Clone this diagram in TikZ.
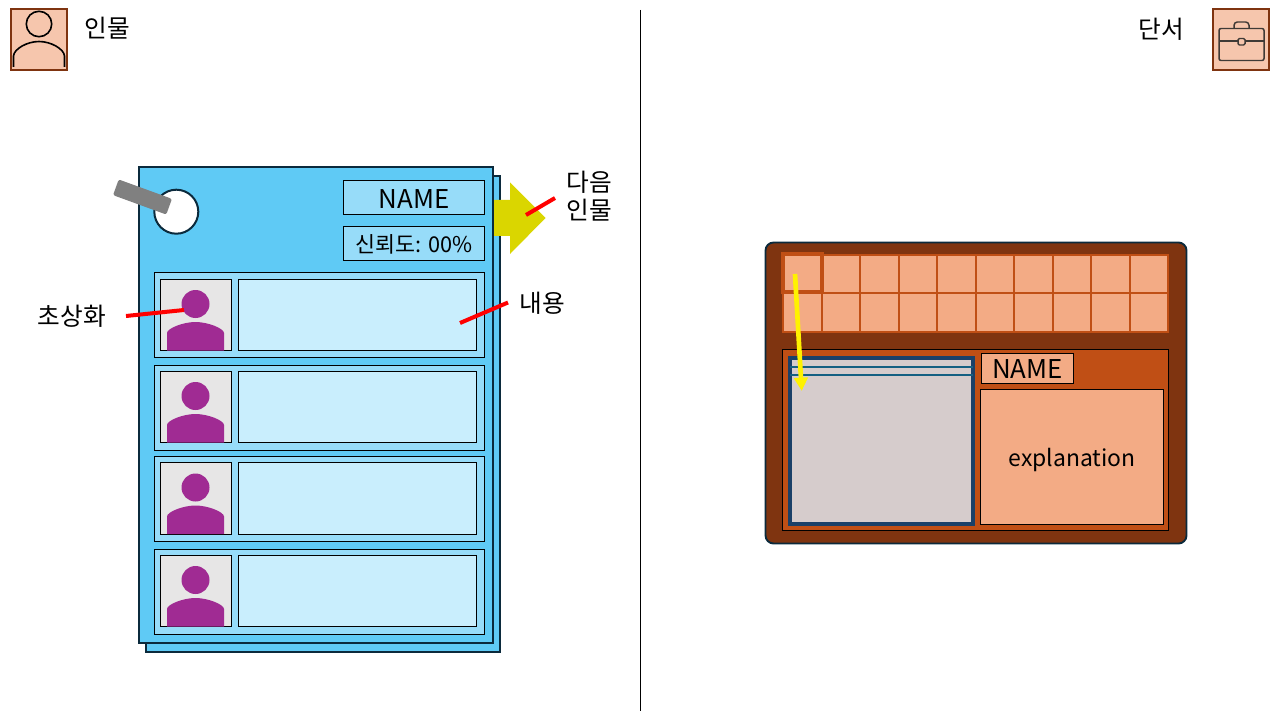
\documentclass[tikz,border=0pt]{standalone}
\usepackage{fontspec}
\usetikzlibrary{arrows.meta}
\setmainfont{Noto Sans CJK KR}
\definecolor{sheet}{HTML}{5FCAF5}
\definecolor{sheetline}{HTML}{0B2A3C}
\definecolor{rowfill}{HTML}{97DCF9}
\definecolor{contentfill}{HTML}{C9EEFD}
\definecolor{avatarbg}{HTML}{E7E6E6}
\definecolor{person}{HTML}{A02B93}
\definecolor{brown}{HTML}{7F3410}
\definecolor{rust}{HTML}{C04F15}
\definecolor{peach}{HTML}{F3AB85}
\definecolor{iconbg}{HTML}{F6C6AD}
\definecolor{arrowyellow}{HTML}{DAD600}
\definecolor{navy}{HTML}{1A4068}
\definecolor{teal}{HTML}{156082}
\definecolor{framefill}{HTML}{D6CCCC}
\definecolor{iconline}{HTML}{3F3A36}
\tikzset{
  x=0.75pt,y=-0.75pt,
  bx/.style={draw=black,line width=0.75pt,anchor=north west,inner sep=0pt,outer sep=0pt},
  sheetbox/.style={bx,fill=sheet,draw=sheetline,line width=1.6pt},
  rowbox/.style={bx,fill=rowfill},
  avatarbox/.style={bx,fill=avatarbg},
  contentbox/.style={bx,fill=contentfill},
  iconbox/.style={bx,fill=iconbg,draw=brown,line width=1.9pt},
  label/.style={font=\fontsize{18.5}{20}\selectfont,inner sep=0pt,align=center},
  callout/.style={draw=red,line width=3pt},
  cell/.style={bx,fill=peach,draw=rust,line width=1.5pt},
}
\newcommand{\bx}[6]{\node[#1,minimum width=#4*0.75pt,minimum height=#5*0.75pt] (#2) at (#3) {#6};}
\newcommand{\bt}[3]{\raisebox{#1}[0pt][0pt]{\fontsize{#2}{20}\selectfont #3}}
\newcommand{\rowset}[5]{%
  \bx{rowbox}{row#1}{154.5,#2}{330}{85}{}
  \bx{avatarbox}{av#1}{160.5,#3}{71}{#5}{}
  \bx{contentbox}{ct#1}{238.5,#3}{238}{#5}{}
  \begin{scope}[shift={(0,#4)}]
    \fill[person] (195.5,24.5) circle[radius=14];
    \fill[person] (167,71) -- (167,53.5) .. controls (167,49) and (183,42.5) .. (195.5,42.5)
       .. controls (208,42.5) and (224,49) .. (224,53.5) -- (224,71) -- cycle;
  \end{scope}}
\begin{document}
\begin{tikzpicture}
\useasboundingbox (0,0) rectangle (1280,720);
% divider
\coordinate (divtop) at (640.5,10);
\coordinate (divbot) at (640.5,711);
\draw[black,line width=0.75pt] (divtop) -- (divbot);
% left icon
\bx{iconbox}{iconL}{11,9}{56}{61}{}
\draw[black,line width=1.2pt] (39,24) circle[radius=12.7];
\draw[black,line width=1.2pt] (13.5,67) -- (13.5,56) .. controls (14,49) and (27,41.5) .. (39,41.5) .. controls (51,41.5) and (64,49) .. (64.5,56) -- (64.5,67);
\node[label] (tL) at (107,28) {인물};
% right icon
\bx{iconbox}{iconR}{1213,9}{56}{61}{}
\begin{scope}[iconline,line width=1.1pt]
\draw[rounded corners=1.5pt] (1219,28.5) rectangle (1264,60.5);
\draw (1219,41) -- (1264,41);
\draw[rounded corners=2.5pt] (1234,28.5) -- (1234,22) -- (1249,22) -- (1249,28.5);
\draw[rounded corners=1pt,fill=iconbg] (1238,38.5) rectangle (1245,45);
\end{scope}
\node[label] (tR) at (1161,29) {단서};
% sheets
\bx{sheetbox}{back}{146,176}{354}{476}{}
% next arrow
\fill[arrowyellow] (493,200) -- (510,200) -- (510,182.5) -- (545.5,218) -- (510,254) -- (510,236) -- (493,236) -- cycle;
\bx{sheetbox}{front}{139,167}{354}{476}{}
\node[circle,draw=sheetline,line width=1.5pt,fill=white,minimum size=33pt,inner sep=0pt] (dial) at (176.3,211.7) {};
\node[fill=gray,rounded corners=1.5pt,rotate=-20,minimum width=42.5pt,minimum height=12.5pt,inner sep=0pt] (bar) at (142.5,197) {};
\bx{rowbox}{namebox}{343.5,180.5}{141}{34}{\bt{-8.2pt}{19.4}{NAME}}
\bx{rowbox}{trust}{343.5,226.5}{141}{34}{\bt{-6.6pt}{16.3}{신뢰도: 00\%}}
\rowset{1}{272.5}{279.5}{279.5}{71}
\rowset{2}{365.5}{371.5}{371.5}{71}
\rowset{3}{456.5}{462.5}{463}{72}
\rowset{4}{549.5}{555.5}{555.5}{71}
% callouts
\node[label] (lface) at (72,316) {초상화};
\coordinate (cfA) at (126,316);
\coordinate (cfB) at (184,310);
\draw[callout] (cfA) -- (cfB);
\node[label] (lbody) at (542.5,303) {내용};
\coordinate (cbA) at (508,302.5);
\coordinate (cbB) at (460,323);
\draw[callout] (cbA) -- (cbB);
\node[label,font=\fontsize{18.5}{21.5}\selectfont] (lnext) at (589,196) {다음\\인물};
\coordinate (cnA) at (555,198);
\coordinate (cnB) at (526,215);
\draw[callout] (cnA) -- (cnB);
% right panel
\node[anchor=north west,draw=sheetline,fill=brown,line width=1.4pt,rounded corners=6pt,inner sep=0pt,outer sep=0pt,minimum width=421*0.75pt,minimum height=301*0.75pt] (panel) at (765.5,242.5) {};
\foreach \c in {0,...,9}{
  \foreach \r in {0,1}{
    \pgfmathsetmacro{\cx}{783+38.5*\c}
    \pgfmathsetmacro{\cy}{254.5+38.8*\r}
    \bx{cell}{cell\r\c}{\cx,\cy}{38.5}{38.8}{}
  }
}
\node[anchor=north west,draw=rust,line width=3pt,minimum width=38.5*0.75pt,minimum height=38*0.75pt,inner sep=0pt,outer sep=0pt] (selcell) at (783,254) {};
\bx{bx,fill=rust}{lower}{782.5,349.5}{386}{181}{}
\node[anchor=north west,draw=navy,fill=framefill,line width=3pt,minimum width=183*0.75pt,minimum height=166*0.75pt,inner sep=0pt,outer sep=0pt] (frame) at (790,358) {};
\coordinate (lnA) at (790,367);
\coordinate (lnB) at (973,367);
\coordinate (lnC) at (790,375);
\coordinate (lnD) at (973,375);
\draw[teal,line width=1.5pt] (lnA) -- (lnB) (lnC) -- (lnD);
\bx{bx,fill=peach}{name2}{981.5,353.5}{92}{30}{\bt{-7.3pt}{19.4}{NAME}}
\bx{bx,fill=peach}{expl}{980.5,389.5}{183}{135}{\bt{-6.75pt}{17.2}{explanation}}
\coordinate (yA) at (795,274);
\coordinate (yB) at (801.7,391);
\draw[draw=yellow,line width=3.5pt,-{Triangle[length=10pt,width=10pt,fill=yellow]}] (yA) -- (yB);
\end{tikzpicture}
\end{document}
